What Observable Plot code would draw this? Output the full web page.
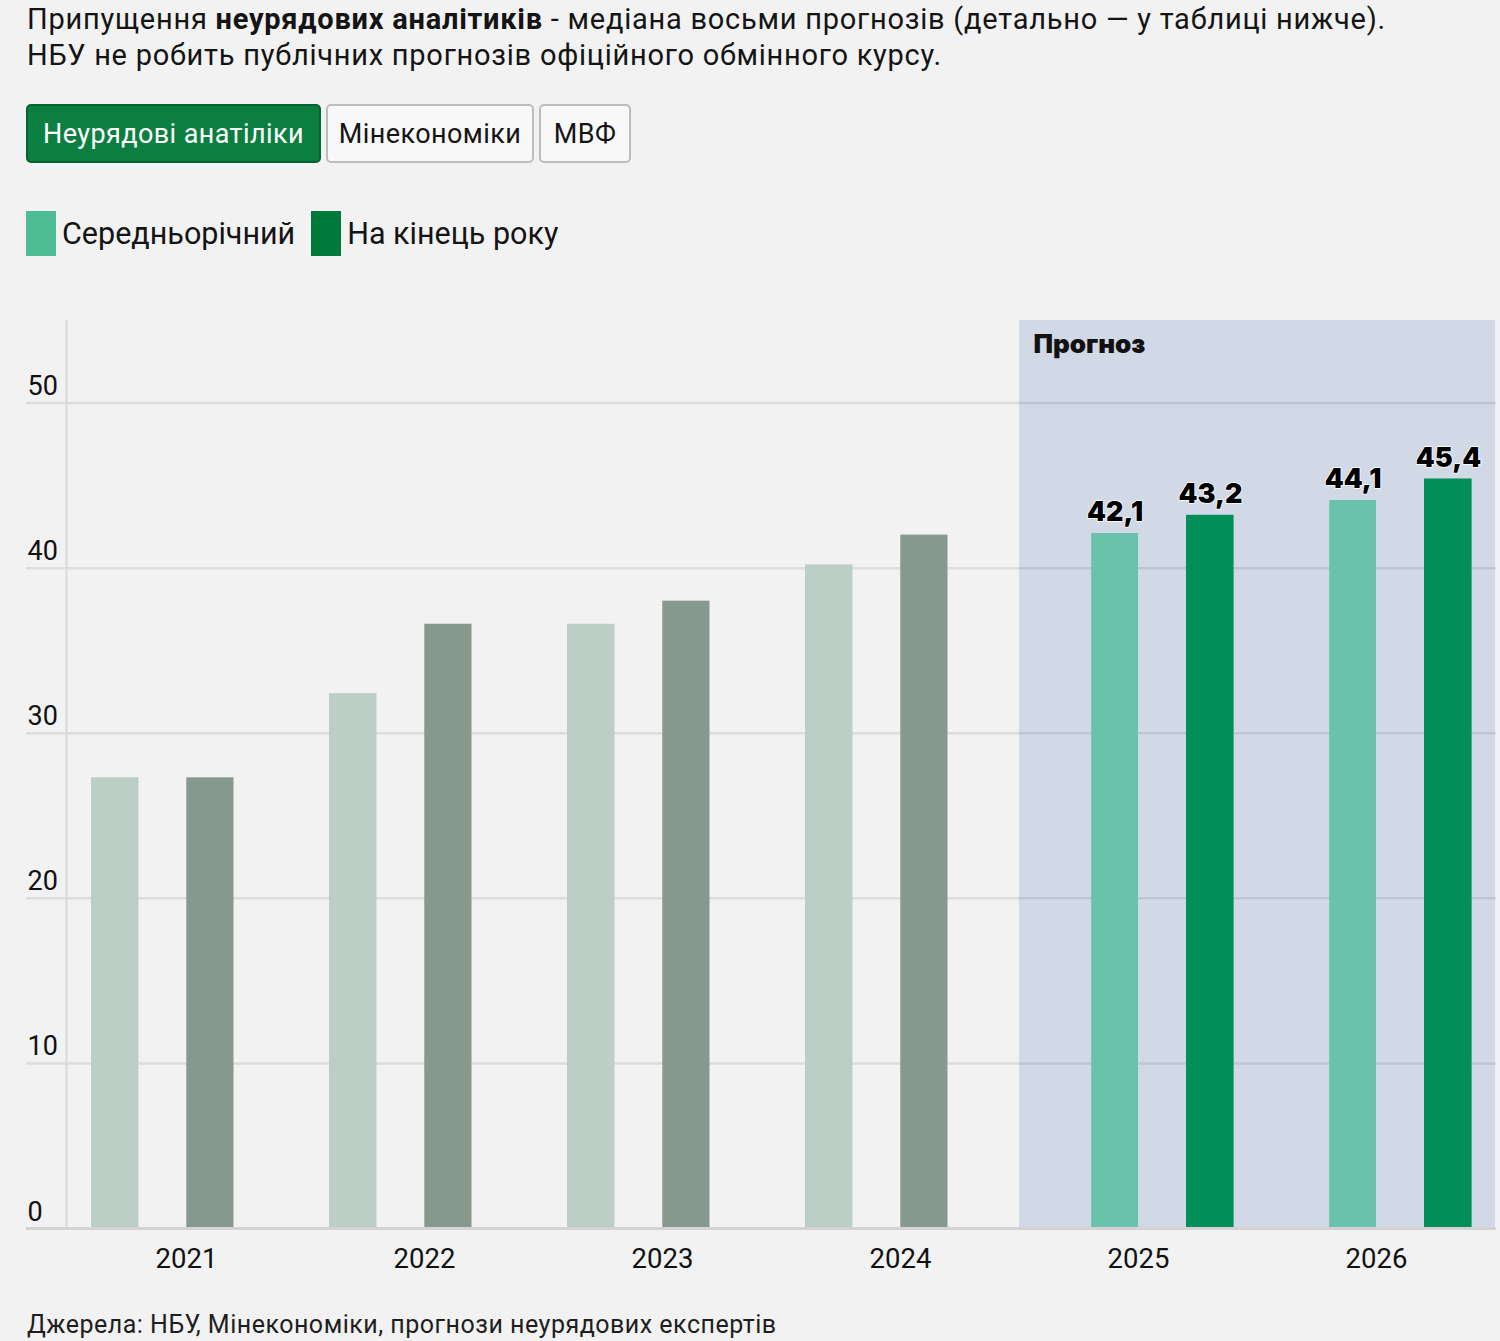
<!DOCTYPE html>
<html>
<head>
<meta charset="utf-8">
<script src="https://cdn.jsdelivr.net/npm/d3@7"></script>
<script src="https://cdn.jsdelivr.net/npm/@observablehq/plot@0.6"></script>
<style>
  html, body { margin: 0; padding: 0; background: #f2f2f2; }
  body { width: 1500px; height: 1341px; position: relative; overflow: hidden; font-family: Roboto, "Noto Sans", sans-serif; color: #141414; }
  #title { position: absolute; left: 27px; top: 1px; font-size: 29px; letter-spacing: 0.75px; line-height: 36px; white-space: nowrap; }
  #title b { font-weight: 700; }
  #buttons { position: absolute; left: 26px; top: 104px; display: flex; gap: 5px; }
  .btn { box-sizing: border-box; height: 59px; border-radius: 5px; font-size: 27px; letter-spacing: 0.4px; display: flex; align-items: center; justify-content: center; border: 2px solid #bdbdbd; background: #f8f8f8; color: #141414; }
  .btn.active { background: #0b7f3f; border-color: #07622f; color: #fff; }
  #legend { position: absolute; left: 26px; top: 211px; display: flex; align-items: center; font-size: 30.5px; }
  .sw { width: 30px; height: 45px; display: inline-block; margin-right: 6px; }
  .item { display: flex; align-items: center; margin-right: 16px; }
  #chart { position: absolute; left: 0; top: 290px; }
  #caption { position: absolute; left: 27px; top: 1310px; font-size: 25px; letter-spacing: 0.5px; color: #1e1e1e; white-space: nowrap; }
</style>
</head>
<body>
<div id="title">Припущення <b>неурядових аналітиків</b> - медіана восьми прогнозів (детально — у таблиці нижче).<br>НБУ не робить публічних прогнозів офіційного обмінного курсу.</div>
<div id="buttons">
  <div class="btn active" style="width:295px">Неурядові анатіліки</div>
  <div class="btn" style="width:208px">Мінекономіки</div>
  <div class="btn" style="width:92px">МВФ</div>
</div>
<div id="legend">
  <div class="item"><span class="sw" style="background:#4dbb94"></span>Середньорічний</div>
  <div class="item"><span class="sw" style="background:#007a3a"></span>На кінець року</div>
</div>
<div id="chart"></div>
<div id="caption">Джерела: НБУ, Мінекономіки, прогнози неурядових експертів</div>
<script>
const years = [2021, 2022, 2023, 2024, 2025, 2026];
const averageRate = [27.3, 32.4, 36.6, 40.2, 42.1, 44.1];
const endOfYearRate = [27.3, 36.6, 38.0, 42.0, 43.2, 45.4];
const forecastYears = [2025, 2026];
const yTicks = [0, 10, 20, 30, 40, 50];
const forecastLabel = "Прогноз";

const rows = years.map((year, i) => ({
  year, avg: averageRate[i], end: endOfYearRate[i], forecast: forecastYears.includes(year)
}));
const hist = rows.filter(d => !d.forecast);
const fc = rows.filter(d => d.forecast);
const fmt = v => v.toFixed(1).replace(".", ",");

const W = 1500, H = 1000;
const labelStyle = { fontSize: 27, fontWeight: 900, fontFamily: "Inter, Roboto, sans-serif", fill: "#000", stroke: "#fff", strokeWidth: 1.5, lineAnchor: "bottom", dy: -12 };
const plot = Plot.plot({
  width: W,
  height: H,
  marginTop: 30,
  marginBottom: 62,
  marginLeft: 66,
  marginRight: 4,
  style: { background: "transparent", fontFamily: "Roboto, sans-serif" },
  x: { type: "band", domain: years, padding: 0, label: null, axis: null },
  y: { domain: [0, 55], label: null, axis: null },
  marks: [
    Plot.barY(forecastYears, { x: d => d, y1: 0, y2: 55, fill: "#d1d9e7" }),
    Plot.ruleY(yTicks.filter(t => t > 0), { stroke: "#000", strokeOpacity: 0.085, strokeWidth: 2.5, insetLeft: -40 }),
    Plot.frame({ anchor: "left", stroke: "#d9d9d9", strokeWidth: 2 }),
    Plot.barY(hist, { x: "year", y: "avg", fill: "#bccfc7", insetLeft: 24, insetRight: 166.5 }),
    Plot.barY(hist, { x: "year", y: "end", fill: "#85998f", insetLeft: 119.3, insetRight: 71.5 }),
    Plot.barY(fc, { x: "year", y: "avg", fill: "#69c2a9", insetLeft: 72.2, insetRight: 119 }),
    Plot.barY(fc, { x: "year", y: "end", fill: "#008f58", insetLeft: 167, insetRight: 23.4 }),
    Plot.ruleY([0], { stroke: "#d3d3d3", strokeWidth: 3, insetLeft: -40 }),
    Plot.text(fc, { x: "year", y: "avg", text: d => fmt(d.avg), dx: -23.4, ...labelStyle }),
    Plot.text(fc, { x: "year", y: "end", text: d => fmt(d.end), dx: 72, ...labelStyle }),
    Plot.text([forecastLabel], { x: forecastYears[0], y: 55, text: d => d, textAnchor: "start", lineAnchor: "top",
      dx: -105, dy: 14, fontSize: 26, fontWeight: 900, fontFamily: "Inter, Roboto, sans-serif", fill: "#111" }),
    Plot.text(yTicks, { y: d => d, text: d => String(d), frameAnchor: "left", textAnchor: "start", lineAnchor: "bottom",
      dx: -39, dy: -8, fontSize: 27, fill: "#111" }),
    Plot.axisX({ tickSize: 0, tickPadding: 20, fontSize: 27.5, label: null, color: "#111", tickFormat: d => String(d) })
  ]
});
document.getElementById("chart").appendChild(plot);
</script>
</body>
</html>
